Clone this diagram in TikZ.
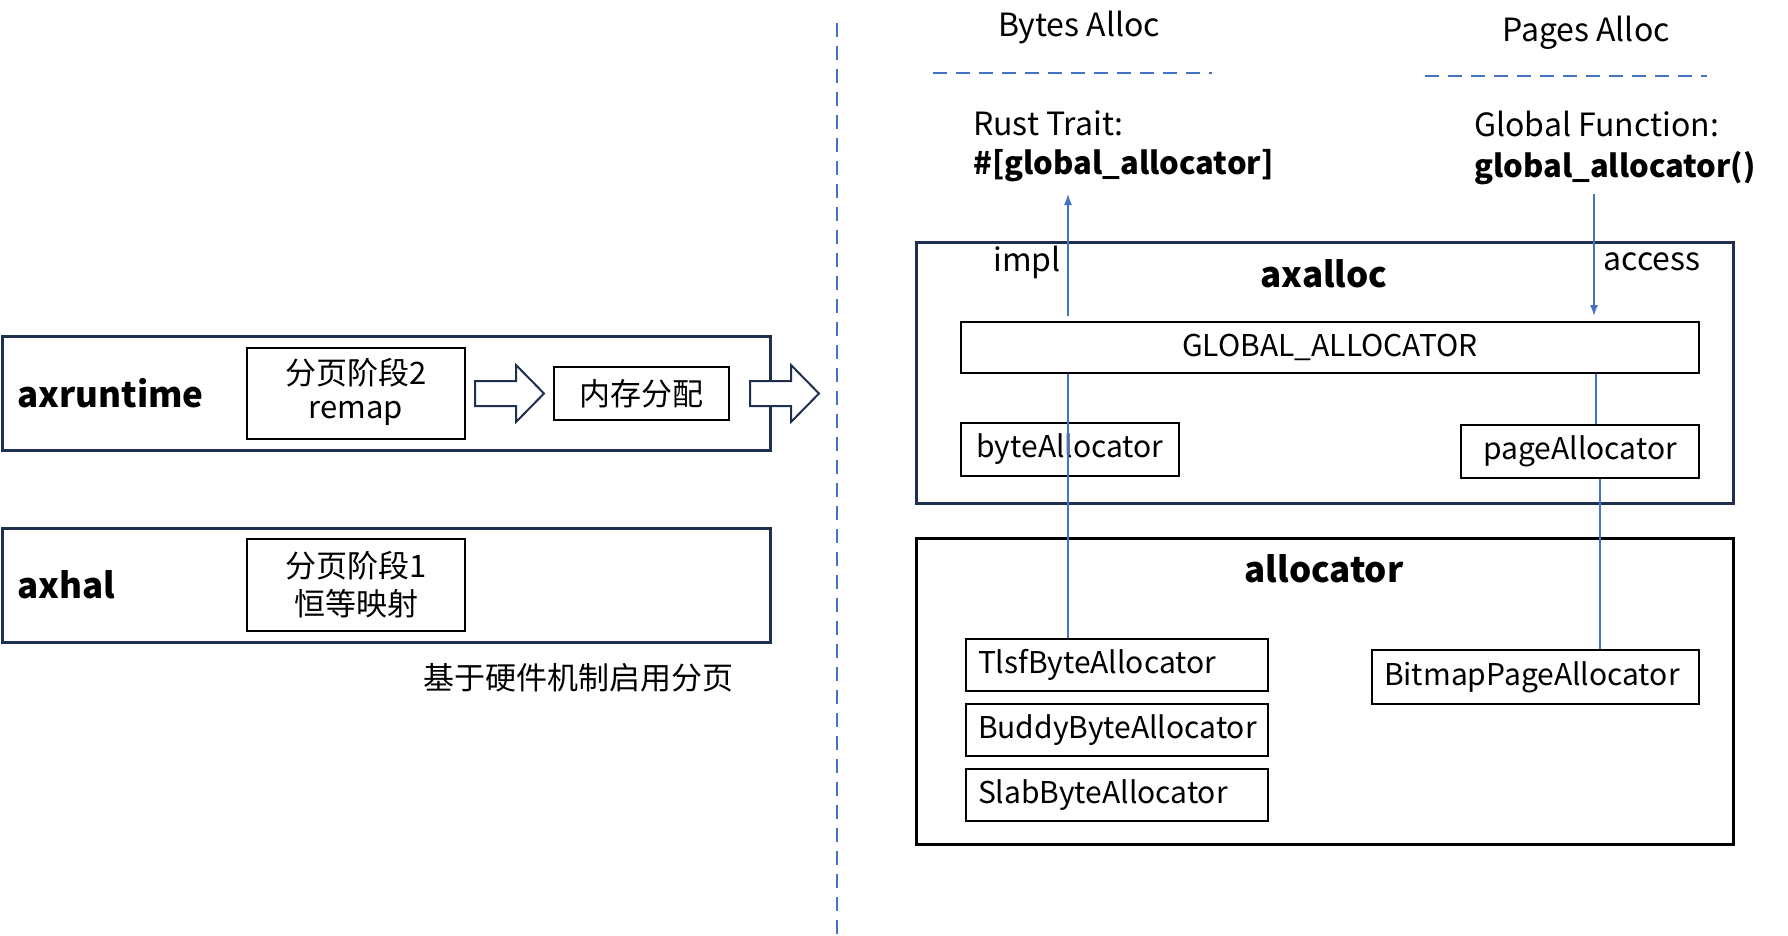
\documentclass[tikz,border=0pt]{standalone}
\usepackage{fontspec}
\setmainfont{Noto Sans CJK SC}
\usetikzlibrary{arrows.meta}
\newcommand\fsz[1]{\fontsize{#1}{#1}\selectfont}
\definecolor{navy}{HTML}{1F2F4F}
\definecolor{lblue}{HTML}{4472C4}
\tikzset{
  outerbox/.style={draw=navy, line width=3pt, inner sep=0pt},
  blkbox/.style={draw=black, line width=3pt, inner sep=0pt},
  inbox/.style={draw=black, line width=2pt, inner sep=0pt, font=\fsz{30pt}},
  leftbox/.style={inbox, align=left, text width=#1, inner xsep=12pt},
  lbl/.style={inner sep=0pt, font=\fsz{32pt}},
  cjk/.style={inner sep=0pt, font=\fsz{31pt}},
  bold/.style={inner sep=0pt, font=\fsz{35pt}\bfseries},
  boldcode/.style={inner sep=0pt, font=\fsz{31pt}\bfseries},
  blueline/.style={draw=lblue, line width=1.5pt},
  bluearrow/.style={blueline, -{Latex[length=11pt,width=8pt]}},
  bluedash/.style={draw=lblue, line width=2.5pt, dash pattern=on 14pt off 9pt},
  blockarrow/.style={draw=navy, line width=2pt, fill=white},
}
\begin{document}
\begin{tikzpicture}[x=1pt,y=-1pt]
\useasboundingbox (0,0) rectangle (1788,935);
% ---------- left ----------
\node[outerbox, minimum width=768pt, minimum height=114pt] (rt) at (386,393) {};
\node[bold, anchor=west] (rtl) at (17,393) {axruntime};
\node[inbox, minimum width=218pt, minimum height=91pt] (p2) at (356,393.5) {};
\node[cjk] (p2a) at (356,373) {分页阶段2};
\node[cjk] (p2b) at (356,413) {remap};
\node[inbox, minimum width=175pt, minimum height=53pt, font=\fsz{31pt}] (mem) at (641.5,393.5) {内存分配};
\draw[blockarrow] (475,381) -- (516,381) -- (516,365) -- (544,393.5) -- (516,422) -- (516,406) -- (475,406) -- cycle;
\draw[blockarrow] (750,381) -- (791,381) -- (791,365) -- (819,393.5) -- (791,422) -- (791,406) -- (750,406) -- cycle;

\node[outerbox, minimum width=768pt, minimum height=114pt] (hal) at (386,585) {};
\node[bold, anchor=west] (hall) at (17,585) {axhal};
\node[inbox, minimum width=218pt, minimum height=92pt] (p1) at (356,585) {};
\node[cjk] (p1a) at (356,566) {分页阶段1};
\node[cjk] (p1b) at (356,604) {恒等映射};
\node[cjk] (hw) at (578,678) {基于硬件机制启用分页};

\coordinate (vtop) at (837,23);
\coordinate (vbot) at (837,935);
\draw[bluedash] (vtop) -- (vbot);

% ---------- right ----------
\node[lbl] (bytes) at (1079,28) {Bytes Alloc};
\coordinate (bd1) at (933,73); \coordinate (bd2) at (1212,73);
\draw[bluedash] (bd1) -- (bd2);
\node[lbl] (pages) at (1586,33) {Pages Alloc};
\coordinate (pd1) at (1425,76); \coordinate (pd2) at (1707,76);
\draw[bluedash] (pd1) -- (pd2);

\node[lbl, anchor=west] (rust) at (973,123) {Rust Trait:};
\node[boldcode, anchor=west] (gattr) at (973,166) {\#[global\_allocator]};
\node[lbl, anchor=west] (gfun) at (1474,124) {Global Function:};
\node[boldcode, anchor=west] (gcall) at (1474,168) {global\_allocator()};

\node[outerbox, minimum width=817pt, minimum height=261pt] (axalloc) at (1324.5,372.5) {};
\node[lbl] (impl) at (1027,262) {impl};
\node[bold] (axallocl) at (1324,274) {axalloc};
\node[lbl] (access) at (1652,262) {access};
\node[inbox, minimum width=738pt, minimum height=51pt] (ga) at (1330,347.5) {GLOBAL\_ALLOCATOR};
\node[inbox, minimum width=218pt, minimum height=53pt] (byte) at (1070,449.5) {byteAllocator};
\node[inbox, minimum width=238pt, minimum height=53pt] (page) at (1580,451.5) {pageAllocator};

\node[blkbox, minimum width=817pt, minimum height=306pt] (alloc) at (1324.5,691) {};
\node[bold] (allocl) at (1324,569) {allocator};
\node[leftbox=278pt, minimum height=52pt] (tlsf) at (1117,665) {TlsfByteAllocator};
\node[leftbox=278pt, minimum height=52pt] (buddy) at (1117,730) {BuddyByteAllocator};
\node[leftbox=278pt, minimum height=52pt] (slab) at (1117,795) {SlabByteAllocator};
\node[leftbox=303pt, minimum height=54pt] (bitmap) at (1535.5,677) {BitmapPageAllocator};

% connectors
\coordinate (implbot) at (1068,316);
\coordinate (impltop) at (1068,194);
\draw[bluearrow] (implbot) -- (impltop);
\coordinate (acctop) at (1594,194);
\coordinate (accbot) at (1594,316);
\draw[bluearrow] (acctop) -- (accbot);
\draw[blueline] (ga.south -| implbot) -- (tlsf.north -| implbot);
\coordinate (px1) at (1596,0);
\draw[blueline] (ga.south -| px1) -- (page.north -| px1);
\coordinate (px2) at (1600,0);
\draw[blueline] (page.south -| px2) -- (bitmap.north -| px2);
\end{tikzpicture}
\end{document}
